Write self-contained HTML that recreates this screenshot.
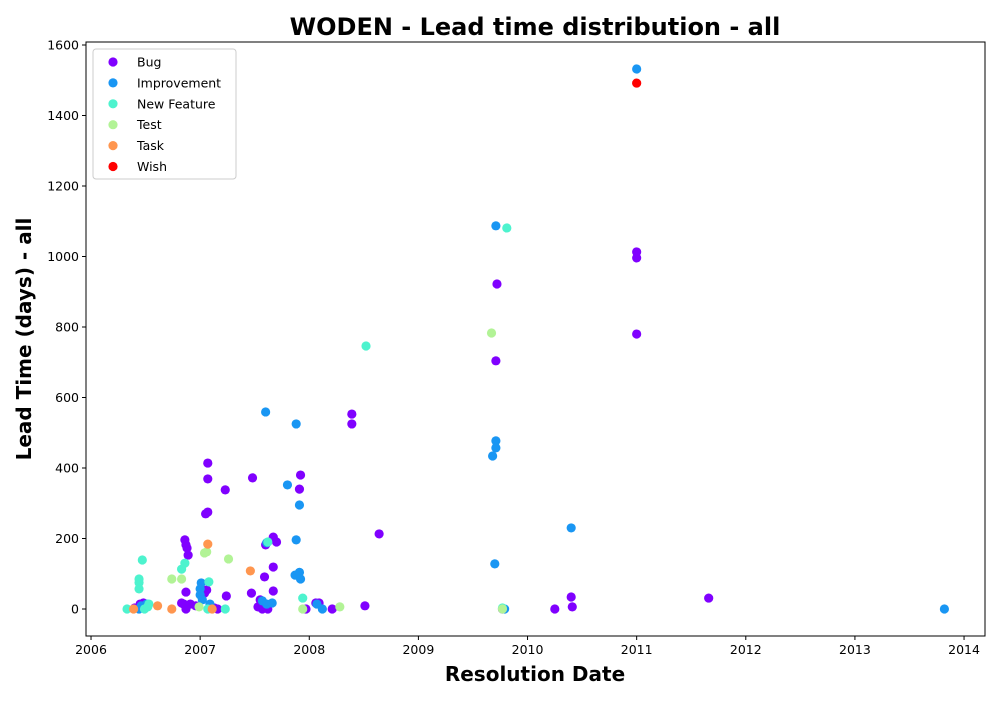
<!DOCTYPE html>
<html><head><meta charset="utf-8"><style>
body{margin:0;background:#fff;font-family:"DejaVu Sans","Liberation Sans",sans-serif}
svg text{font-family:"DejaVu Sans","Liberation Sans",sans-serif}
</style></head><body>
<svg id="c" width="1000" height="700"></svg>
<script>
const seriesNames=["Bug","Improvement","New Feature","Test","Task","Wish"];
const seriesColors=["#8000ff","#1996f3","#4df3ce","#b2f396","#ff964f","#ff0000"];
const bugX=[2006.40,2006.45,2006.48,2006.83,2006.85,2006.87,2006.91,2006.87,2006.86,2006.87,2006.88,2006.89,2007.07,2007.07,2007.07,2007.05,2007.23,2007.48,2007.24,2007.04,2007.06,2006.96,2007.13,2007.16,2007.47,2007.53,2007.55,2007.59,2007.60,2007.67,2007.70,2007.67,2007.67,2007.57,2007.62,2007.92,2007.91,2008.39,2008.39,2008.64,2008.06,2008.09,2008.21,2007.97,2008.51,2009.72,2009.71,2011.00,2011.00,2011.00,2010.40,2010.41,2010.25,2011.66,2009.77];
const bugY=[3,14,17,17,14,0,14,48,196,182,173,153,414,369,275,270,338,372,37,45,54,9,3,0,45,6,26,91,182,204,190,119,51,0,0,380,340,553,525,213,17,17,0,0,9,922,704,1013,996,780,34,6,0,31,0];
const impX=[2011.00,2009.71,2007.60,2007.88,2007.80,2007.91,2007.88,2007.87,2007.91,2007.92,2009.71,2009.71,2009.68,2009.70,2010.40,2013.82,2007.01,2007.00,2007.00,2007.02,2007.09,2007.57,2007.61,2007.66,2008.07,2008.12,2009.79,2006.44,2006.46,2006.51,2007.61];
const impY=[1532,1087,559,525,352,295,196,96,104,85,477,457,434,128,230,0,74,57,40,26,14,23,14,17,14,0,0,0,9,14,188];
const nfX=[2009.81,2008.52,2006.47,2006.44,2006.44,2006.44,2006.83,2007.08,2006.86,2007.94,2006.33,2006.53,2006.49,2007.23,2007.07,2007.62,2009.77,2006.52];
const nfY=[1081,746,139,85,75,57,113,77,130,31,0,14,0,0,0,190,3,6];
const testX=[2009.67,2006.74,2006.83,2007.04,2007.06,2007.26,2006.99,2007.94,2008.28,2009.77];
const testY=[783,85,85,159,162,142,6,0,6,0];
const taskX=[2007.07,2007.46,2006.61,2006.74,2006.39,2007.11];
const taskY=[184,108,9,0,0,0];
const wishX=[2011.00];
const wishY=[1492];
const xTicks=[2006,2007,2008,2009,2010,2011,2012,2013,2014];
const yTicks=[0,200,400,600,800,1000,1200,1400,1600];

const L=86,R=985,T=42,B=636;
const X0=2005.954,X1=2014.192,Y0=-76.6,Y1=1608.5;
const sx=v=>L+(v-X0)/(X1-X0)*(R-L);
const sy=v=>B-(v-Y0)/(Y1-Y0)*(B-T);
const svg=document.getElementById('c');
const NS="http://www.w3.org/2000/svg";
function mk(t,a,p){const e=document.createElementNS(NS,t);for(const k in a)e.setAttribute(k,a[k]);(p||svg).appendChild(e);return e;}

let t=mk('text',{x:535,y:35,'text-anchor':'middle','font-size':24,'font-weight':'bold'});t.textContent='WODEN - Lead time distribution - all';



const gx=mk('g',{});


xTicks.forEach(v=>{const x=sx(v);mk('line',{x1:x,x2:x,y1:B,y2:B+4,stroke:'#000'},gx);
const tt=mk('text',{x:x,y:B+18,'text-anchor':'middle','font-size':12.5},gx);tt.textContent=v;

});
const gy=mk('g',{});


yTicks.forEach(v=>{const y=sy(v);mk('line',{x1:L-4,x2:L,y1:y,y2:y,stroke:'#000'},gy);
const tt=mk('text',{x:L-7,y:y+4.5,'text-anchor':'end','font-size':12.5},gy);tt.textContent=v;

});

t=mk('text',{x:535,y:681,'text-anchor':'middle','font-size':20,'font-weight':'bold'});t.textContent='Resolution Date';


t=mk('text',{x:0,y:0,'text-anchor':'middle','font-size':20,'font-weight':'bold',transform:'translate(31,339) rotate(-90)'});t.textContent='Lead Time (days) - all';



const allX=[bugX,impX,nfX,testX,taskX,wishX],allY=[bugY,impY,nfY,testY,taskY,wishY];
allX.forEach((xs,i)=>{const g=mk('g',{fill:seriesColors[i]});


xs.forEach((v,j)=>{const c=mk('circle',{cx:sx(v),cy:sy(allY[i][j]),r:4.6},g);

});});

const fr=mk('rect',{x:L,y:T,width:R-L,height:B-T,fill:'none',stroke:'#000','stroke-width':1});



const lg=mk('g',{});


mk('rect',{x:93,y:49,width:143,height:130,rx:3,fill:'#fff','fill-opacity':0.8,stroke:'#ccc'},lg);
seriesNames.forEach((n,i)=>{const y=62+i*20.9;
const e=mk('g',{},lg);


mk('circle',{cx:113,cy:y,r:4.6,fill:seriesColors[i]},e);
const tt=mk('text',{x:137,y:y+4.5,'font-size':12.5},e);tt.textContent=n;});
</script>
</body></html>
